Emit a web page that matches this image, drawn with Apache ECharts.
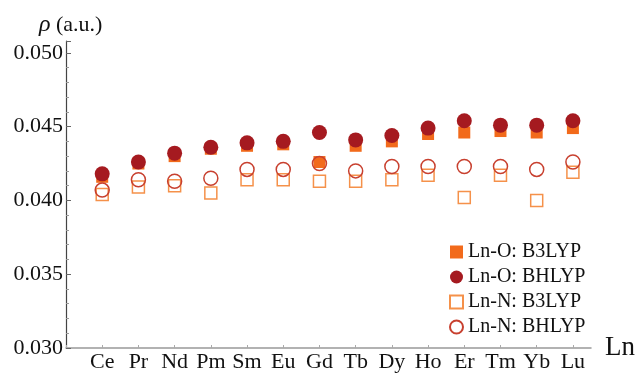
<!DOCTYPE html>
<html>
<head>
<meta charset="utf-8">
<script src="https://cdn.jsdelivr.net/npm/echarts@6/dist/echarts.min.js"></script>
<style>html,body{margin:0;padding:0;background:#fff;}#c{width:638px;height:373px;}</style>
</head>
<body>
<div id="c"></div>
<script>
const categories = ['Ce','Pr','Nd','Pm','Sm','Eu','Gd','Tb','Dy','Ho','Er','Tm','Yb','Lu'];
const lnO_B3LYP = [0.0416,0.0425,0.0430,0.0435,0.0437,0.0438,0.0426,0.0437,0.0440,0.0445,0.0446,0.0447,0.0446,0.0449];
const lnO_BHLYP = [0.0418,0.0426,0.0432,0.0436,0.0439,0.0440,0.0446,0.0441,0.0444,0.0449,0.0454,0.0451,0.0451,0.0454];
const lnN_B3LYP = [0.0404,0.0409,0.0410,0.0405,0.0414,0.0414,0.0413,0.0413,0.0414,0.0417,0.0402,0.0417,0.0400,0.0419];
const lnN_BHLYP = [0.0407,0.0414,0.0413,0.0415,0.0421,0.0421,0.0425,0.0420,0.0423,0.0423,0.0423,0.0423,0.0421,0.0426];
const yTicks = [0.030,0.035,0.040,0.045,0.050];
const seriesNames = ['Ln-O: B3LYP','Ln-O: BHLYP','Ln-N: B3LYP','Ln-N: BHLYP'];

const FONT = '"Liberation Serif","Times New Roman",serif';
const toPts = arr => arr.map((v,i)=>[i+1,v]);
const chart = echarts.init(document.getElementById('c'), null, {renderer:'canvas'});
chart.setOption({
  animation:false,
  backgroundColor:'#fff',
  title:{
    text:'{r|ρ} (a.u.)', left:34, top:8,
    textStyle:{fontFamily:FONT,fontSize:22,fontWeight:'normal',color:'#111',
      rich:{r:{fontFamily:FONT,fontSize:24,fontStyle:'italic',color:'#111'}}}
  },
  grid:{left:66,right:45,top:41,bottom:23},
  xAxis:{
    type:'value', min:0, max:14.5, interval:1,
    name:'Ln', nameLocation:'end', nameGap:14,
    nameTextStyle:{fontFamily:FONT,fontSize:27,color:'#111',verticalAlign:'middle',padding:[8,0,0,0]},
    axisLine:{show:true,lineStyle:{color:'#999',width:1.5}},
    axisTick:{show:true,inside:true,length:3,lineStyle:{color:'#aaa'}},
    splitLine:{show:false},
    axisLabel:{fontFamily:FONT,fontSize:22,color:'#111',margin:3,showMaxLabel:false,
      formatter:v=>{const i=Math.round(v);return (Math.abs(v-i)<1e-6&&i>=1&&i<=categories.length)?categories[i-1]:'';}}
  },
  yAxis:{
    type:'value', min:0.030, max:0.0508, interval:0.005,
    axisLine:{show:true,lineStyle:{color:'#444',width:1.2}},
    axisTick:{show:true,inside:true,length:5,lineStyle:{color:'#666'}},
    minorTick:{show:true,splitNumber:5,length:3,lineStyle:{color:'#999'}},
    splitLine:{show:false},
    axisLabel:{fontFamily:FONT,fontSize:22,color:'#111',margin:3,
      formatter:v=>{for(const t of yTicks){if(Math.abs(v-t)<1e-7)return t.toFixed(3);}return '';}}
  },
  legend:{
    orient:'vertical', left:444, top:237, itemGap:5, itemWidth:13, itemHeight:13,
    textStyle:{fontFamily:FONT,fontSize:20,color:'#111'},
    data:[
      {name:seriesNames[0],icon:'rect'},
      {name:seriesNames[1],icon:'circle'},
      {name:seriesNames[2],icon:'rect'},
      {name:seriesNames[3],icon:'circle'}
    ]
  },
  series:[
    {name:seriesNames[0],type:'scatter',symbol:'rect',symbolSize:12,data:toPts(lnO_B3LYP),
      itemStyle:{color:'#F26A1B',opacity:1}},
    {name:seriesNames[1],type:'scatter',symbol:'circle',symbolSize:15,data:toPts(lnO_BHLYP),
      itemStyle:{color:'#A51A20',opacity:1}},
    {name:seriesNames[2],type:'scatter',symbol:'rect',symbolSize:12,data:toPts(lnN_B3LYP),
      itemStyle:{color:'rgba(255,255,255,0)',borderColor:'#F5914A',borderWidth:1.5,opacity:1}},
    {name:seriesNames[3],type:'scatter',symbol:'circle',symbolSize:14,data:toPts(lnN_BHLYP),
      itemStyle:{color:'rgba(255,255,255,0)',borderColor:'#C8402F',borderWidth:1.5,opacity:1}}
  ]
});
</script>
</body>
</html>
